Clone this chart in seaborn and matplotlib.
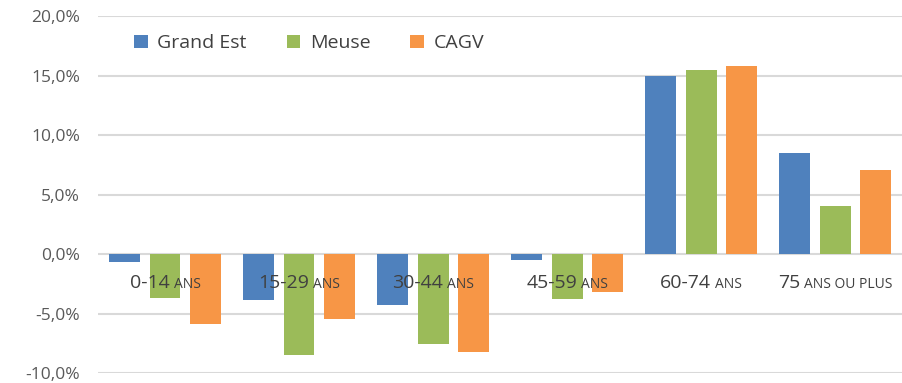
import matplotlib
matplotlib.use("Agg")
import matplotlib.pyplot as plt
import seaborn as sns
import pandas as pd
from matplotlib.offsetbox import TextArea, HPacker, AnnotationBbox
from matplotlib.ticker import FuncFormatter
from matplotlib.patches import Patch

# Évolution de la population par tranche d'âge
age_numbers = ["0-14", "15-29", "30-44", "45-59", "60-74", "75"]
age_suffixes = ["ANS", "ANS", "ANS", "ANS", "ANS", "ANS OU PLUS"]
zones = ["Grand Est", "Meuse", "CAGV"]
grand_est = [-0.7, -3.9, -4.3, -0.5, 15.0, 8.5]
meuse = [-3.7, -8.5, -7.6, -3.8, 15.5, 4.0]
cagv = [-5.9, -5.5, -8.2, -3.2, 15.8, 7.1]
colors = ["#4F81BD", "#9BBB59", "#F79646"]

categories = [f"{n} {s}" for n, s in zip(age_numbers, age_suffixes)]
df = pd.DataFrame({
    "age": categories * 3,
    "zone": [z for z in zones for _ in categories],
    "val": grand_est + meuse + cagv,
})

sns.set_style("white")
plt.rcParams["font.family"] = ["Open Sans", "DejaVu Sans"]

fig = plt.figure(figsize=(9.03, 3.83), dpi=100)
ax = fig.add_axes([0.1085, 0.026, 0.8905, 0.932])

sns.barplot(data=df, x="age", y="val", hue="zone", hue_order=zones,
            order=categories, palette=colors, width=0.9, gap=0.23,
            saturation=1, linewidth=0, ax=ax, legend=False, zorder=3)

ax.set_ylim(-10, 20)
ax.set_xlim(-0.5, len(categories) - 0.5)
ax.set_yticks([-10, -5, 0, 5, 10, 15, 20])
ax.yaxis.set_major_formatter(FuncFormatter(lambda v, p: f"{v:.1f}%".replace(".", ",")))
ax.tick_params(axis="y", length=0, pad=13, labelsize=12.5, labelcolor="#595959")
ax.set_xticks([])
ax.set_xlabel("")
ax.set_ylabel("")
for s in ax.spines.values():
    s.set_visible(False)
ax.grid(axis="y", color="#d9d9d9", linewidth=1.5, zorder=0)
ax.set_axisbelow(True)

# category labels drawn inside the plot, with small-caps style suffix
for i, (num, suf) in enumerate(zip(age_numbers, age_suffixes)):
    box = HPacker(children=[
        TextArea(num, textprops=dict(size=14, color="#404040")),
        TextArea(suf, textprops=dict(size=10, color="#404040")),
    ], align="baseline", pad=0, sep=3)
    ab = AnnotationBbox(box, (i, -2.4), xycoords="data", frameon=False,
                        box_alignment=(0.5, 0.5), zorder=5)
    ax.add_artist(ab)

handles = [Patch(facecolor=c, edgecolor="none") for c in colors]
ax.legend(handles, zones, ncol=3, loc="center left", bbox_to_anchor=(0.023, 0.924),
          frameon=False, fontsize=14, handlelength=0.7, handleheight=0.7,
          handletextpad=0.5, columnspacing=2.05, labelcolor="#404040")

fig.savefig("out.png", dpi=100)
